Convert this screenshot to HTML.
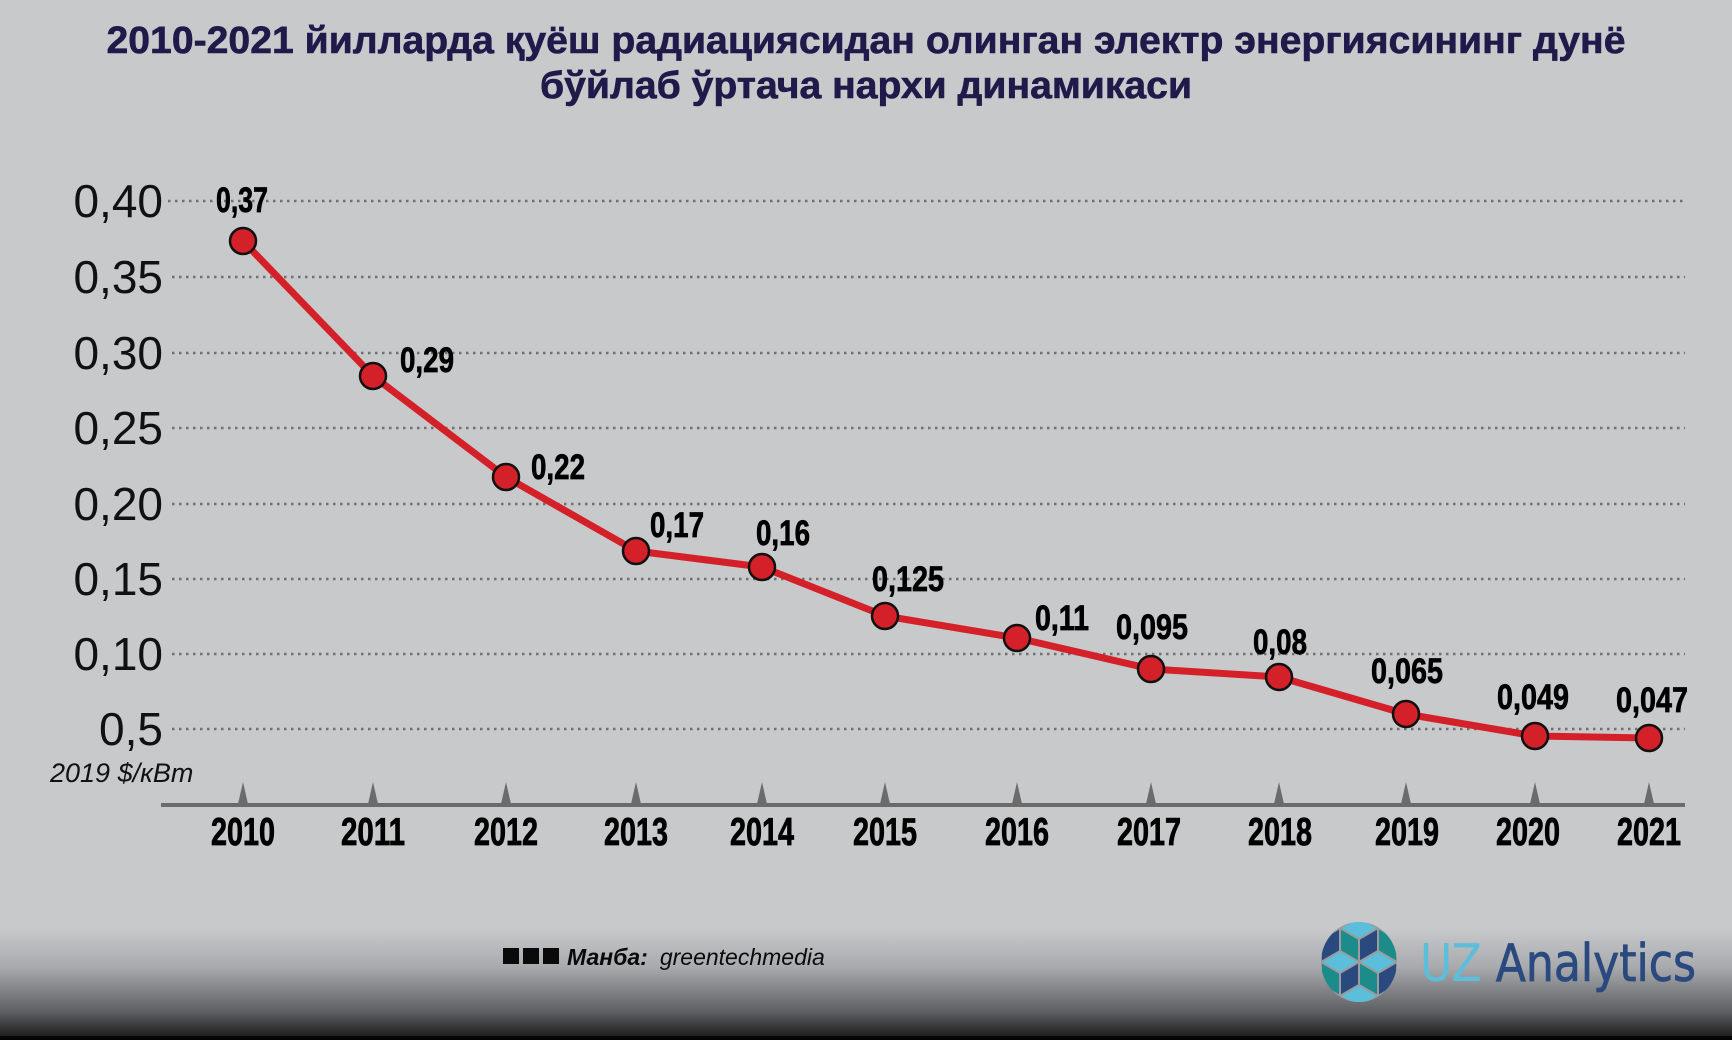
<!DOCTYPE html>
<html><head><meta charset="utf-8"><style>
html,body{margin:0;padding:0;background:#c8c9cb;}
svg{display:block;}
</style></head><body>
<svg width="1732" height="1040" viewBox="0 0 1732 1040" xmlns="http://www.w3.org/2000/svg">
<defs>
<linearGradient id="bg" x1="0" y1="0" x2="0" y2="1">
<stop offset="0" stop-color="#c8c9cb"/>
<stop offset="0.35" stop-color="#a9aaad"/>
<stop offset="0.75" stop-color="#5e5f62"/>
<stop offset="1" stop-color="#141414"/>
</linearGradient>
<clipPath id="cc"><ellipse cx="1359" cy="962" rx="38" ry="40"/></clipPath>
</defs>
<rect width="1732" height="1040" fill="#c8c9cb"/>
<rect x="0" y="928" width="1732" height="112" fill="url(#bg)"/>
<rect x="0" y="1036" width="1732" height="4" fill="#050505"/>

<g font-family="'Liberation Sans', sans-serif" font-weight="bold" fill="#1e1a4a" font-size="38" text-anchor="middle" stroke="#1e1a4a" stroke-width="0.6">
<text x="866" y="53" textLength="1519" lengthAdjust="spacingAndGlyphs">2010-2021 йилларда қуёш радиациясидан олинган электр энергиясининг дунё</text>
<text x="866" y="98" textLength="652" lengthAdjust="spacingAndGlyphs">бўйлаб ўртача нархи динамикаси</text>
</g>

<g stroke="#707070" stroke-width="2.5" stroke-dasharray="2.5 4.5">
<line x1="168" y1="201" x2="1685" y2="201"/>
<line x1="172" y1="277" x2="1685" y2="277"/>
<line x1="172" y1="353" x2="1685" y2="353"/>
<line x1="172" y1="428" x2="1685" y2="428"/>
<line x1="172" y1="504" x2="1685" y2="504"/>
<line x1="172" y1="579" x2="1685" y2="579"/>
<line x1="172" y1="654" x2="1685" y2="654"/>
<line x1="172" y1="729" x2="1685" y2="729"/>
</g>

<g font-family="'Liberation Sans', sans-serif" font-size="46" fill="#111" text-anchor="end">
<text x="163" y="217">0,40</text>
<text x="163" y="293">0,35</text>
<text x="163" y="369">0,30</text>
<text x="163" y="444">0,25</text>
<text x="163" y="520">0,20</text>
<text x="163" y="595">0,15</text>
<text x="163" y="670">0,10</text>
<text x="163" y="745">0,5</text>
</g>
<text x="50" y="782" font-family="'Liberation Sans', sans-serif" font-style="italic" font-size="27" fill="#111">2019 $/кВт</text>

<line x1="161" y1="805" x2="1685" y2="805" stroke="#6b6b6b" stroke-width="4"/>
<g fill="#6b6b6b">
<polygon points="238,804 243,782 248,804"/>
<polygon points="368,804 373,782 378,804"/>
<polygon points="501,804 506,782 511,804"/>
<polygon points="631,804 636,782 641,804"/>
<polygon points="757,804 762,782 767,804"/>
<polygon points="880,804 885,782 890,804"/>
<polygon points="1012,804 1017,782 1022,804"/>
<polygon points="1146,804 1151,782 1156,804"/>
<polygon points="1274,804 1279,782 1284,804"/>
<polygon points="1401,804 1406,782 1411,804"/>
<polygon points="1530,804 1535,782 1540,804"/>
<polygon points="1644,804 1649,782 1654,804"/>
</g>
<g font-family="'Liberation Sans', sans-serif" font-weight="bold" font-size="39" fill="#000" text-anchor="middle" stroke="#000" stroke-width="0.8">
<text x="243" y="845" textLength="64" lengthAdjust="spacingAndGlyphs">2010</text>
<text x="373" y="845" textLength="64" lengthAdjust="spacingAndGlyphs">2011</text>
<text x="506" y="845" textLength="64" lengthAdjust="spacingAndGlyphs">2012</text>
<text x="636" y="845" textLength="64" lengthAdjust="spacingAndGlyphs">2013</text>
<text x="762" y="845" textLength="64" lengthAdjust="spacingAndGlyphs">2014</text>
<text x="885" y="845" textLength="64" lengthAdjust="spacingAndGlyphs">2015</text>
<text x="1017" y="845" textLength="64" lengthAdjust="spacingAndGlyphs">2016</text>
<text x="1149" y="845" textLength="64" lengthAdjust="spacingAndGlyphs">2017</text>
<text x="1280" y="845" textLength="64" lengthAdjust="spacingAndGlyphs">2018</text>
<text x="1407" y="845" textLength="64" lengthAdjust="spacingAndGlyphs">2019</text>
<text x="1528" y="845" textLength="64" lengthAdjust="spacingAndGlyphs">2020</text>
<text x="1649" y="845" textLength="64" lengthAdjust="spacingAndGlyphs">2021</text>
</g>

<polyline fill="none" stroke="#d42028" stroke-width="7" stroke-linejoin="round"
points="243,241 373,376 506,477 636,551 762,567 885,616 1017,638 1151,669 1279,677 1406,714 1535,736 1649,738"/>
<g fill="#d42028" stroke="#111" stroke-width="2.5">
<circle cx="243" cy="241" r="13"/>
<circle cx="373" cy="376" r="13"/>
<circle cx="506" cy="477" r="13"/>
<circle cx="636" cy="551" r="13"/>
<circle cx="762" cy="567" r="13"/>
<circle cx="885" cy="616" r="13"/>
<circle cx="1017" cy="638" r="13"/>
<circle cx="1151" cy="669" r="13"/>
<circle cx="1279" cy="677" r="13"/>
<circle cx="1406" cy="714" r="13"/>
<circle cx="1535" cy="736" r="13"/>
<circle cx="1649" cy="738" r="13"/>
</g>

<g font-family="'Liberation Sans', sans-serif" font-weight="bold" font-size="35" fill="#000" text-anchor="middle" stroke="#000" stroke-width="0.7">
<text x="242" y="212" textLength="52" lengthAdjust="spacingAndGlyphs">0,37</text>
<text x="427" y="372" textLength="54" lengthAdjust="spacingAndGlyphs">0,29</text>
<text x="558" y="479" textLength="54" lengthAdjust="spacingAndGlyphs">0,22</text>
<text x="677" y="537" textLength="54" lengthAdjust="spacingAndGlyphs">0,17</text>
<text x="783" y="545" textLength="54" lengthAdjust="spacingAndGlyphs">0,16</text>
<text x="908" y="591" textLength="72" lengthAdjust="spacingAndGlyphs">0,125</text>
<text x="1062" y="630" textLength="54" lengthAdjust="spacingAndGlyphs">0,11</text>
<text x="1152" y="639" textLength="72" lengthAdjust="spacingAndGlyphs">0,095</text>
<text x="1280" y="654" textLength="54" lengthAdjust="spacingAndGlyphs">0,08</text>
<text x="1407" y="683" textLength="72" lengthAdjust="spacingAndGlyphs">0,065</text>
<text x="1533" y="709" textLength="72" lengthAdjust="spacingAndGlyphs">0,049</text>
<text x="1652" y="712" textLength="72" lengthAdjust="spacingAndGlyphs">0,047</text>
</g>

<g fill="#0a0a0a">
<rect x="503" y="948" width="16" height="16"/>
<rect x="523" y="948" width="16" height="16"/>
<rect x="543" y="948" width="16" height="16"/>
</g>
<text x="567" y="965" font-family="'Liberation Sans', sans-serif" font-size="23" fill="#0a0a0a"><tspan font-weight="bold" font-style="italic">Манба:</tspan><tspan dx="12" font-style="italic">greentechmedia</tspan></text>

<g clip-path="url(#cc)">
<rect x="1315" y="915" width="90" height="95" fill="#9a9c9f"/>
<polygon points="1359,962 1340,951 1340,928 1359,939" fill="#1c8c8a" stroke="#9a9c9f" stroke-width="2"/>
<polygon points="1359,962 1378,951 1378,928 1359,939" fill="#2a4a7f" stroke="#9a9c9f" stroke-width="2"/>
<polygon points="1340,928 1359,917 1378,928 1359,939" fill="#5bbfdc" stroke="#9a9c9f" stroke-width="2"/>
<polygon points="1359,962 1340,973 1321,962 1340,951" fill="#5bbfdc" stroke="#9a9c9f" stroke-width="2"/>
<polygon points="1359,962 1378,973 1397,962 1378,951" fill="#5bbfdc" stroke="#9a9c9f" stroke-width="2"/>
<polygon points="1359,962 1340,973 1340,996 1359,985" fill="#2a4a7f" stroke="#9a9c9f" stroke-width="2"/>
<polygon points="1359,962 1378,973 1378,996 1359,985" fill="#1c8c8a" stroke="#9a9c9f" stroke-width="2"/>
<polygon points="1340,996 1359,985 1378,996 1359,1007" fill="#5bbfdc" stroke="#9a9c9f" stroke-width="2"/>
<polygon points="1340,951 1321,962 1321,939 1340,928" fill="#2a4a7f" stroke="#9a9c9f" stroke-width="2"/>
<polygon points="1378,951 1397,962 1397,939 1378,928" fill="#1c8c8a" stroke="#9a9c9f" stroke-width="2"/>
<polygon points="1340,973 1321,962 1321,985 1340,996" fill="#1c8c8a" stroke="#9a9c9f" stroke-width="2"/>
<polygon points="1378,973 1397,962 1397,985 1378,996" fill="#2a4a7f" stroke="#9a9c9f" stroke-width="2"/>
</g>
<text x="1420" y="981" font-family="'DejaVu Sans', 'Liberation Sans', sans-serif" font-size="52" textLength="276" lengthAdjust="spacingAndGlyphs"><tspan fill="#5bbfdc">UZ</tspan><tspan fill="#2a4a7f" stroke="#2a4a7f" stroke-width="0.8"> Analytics</tspan></text>
</svg>
</body></html>
